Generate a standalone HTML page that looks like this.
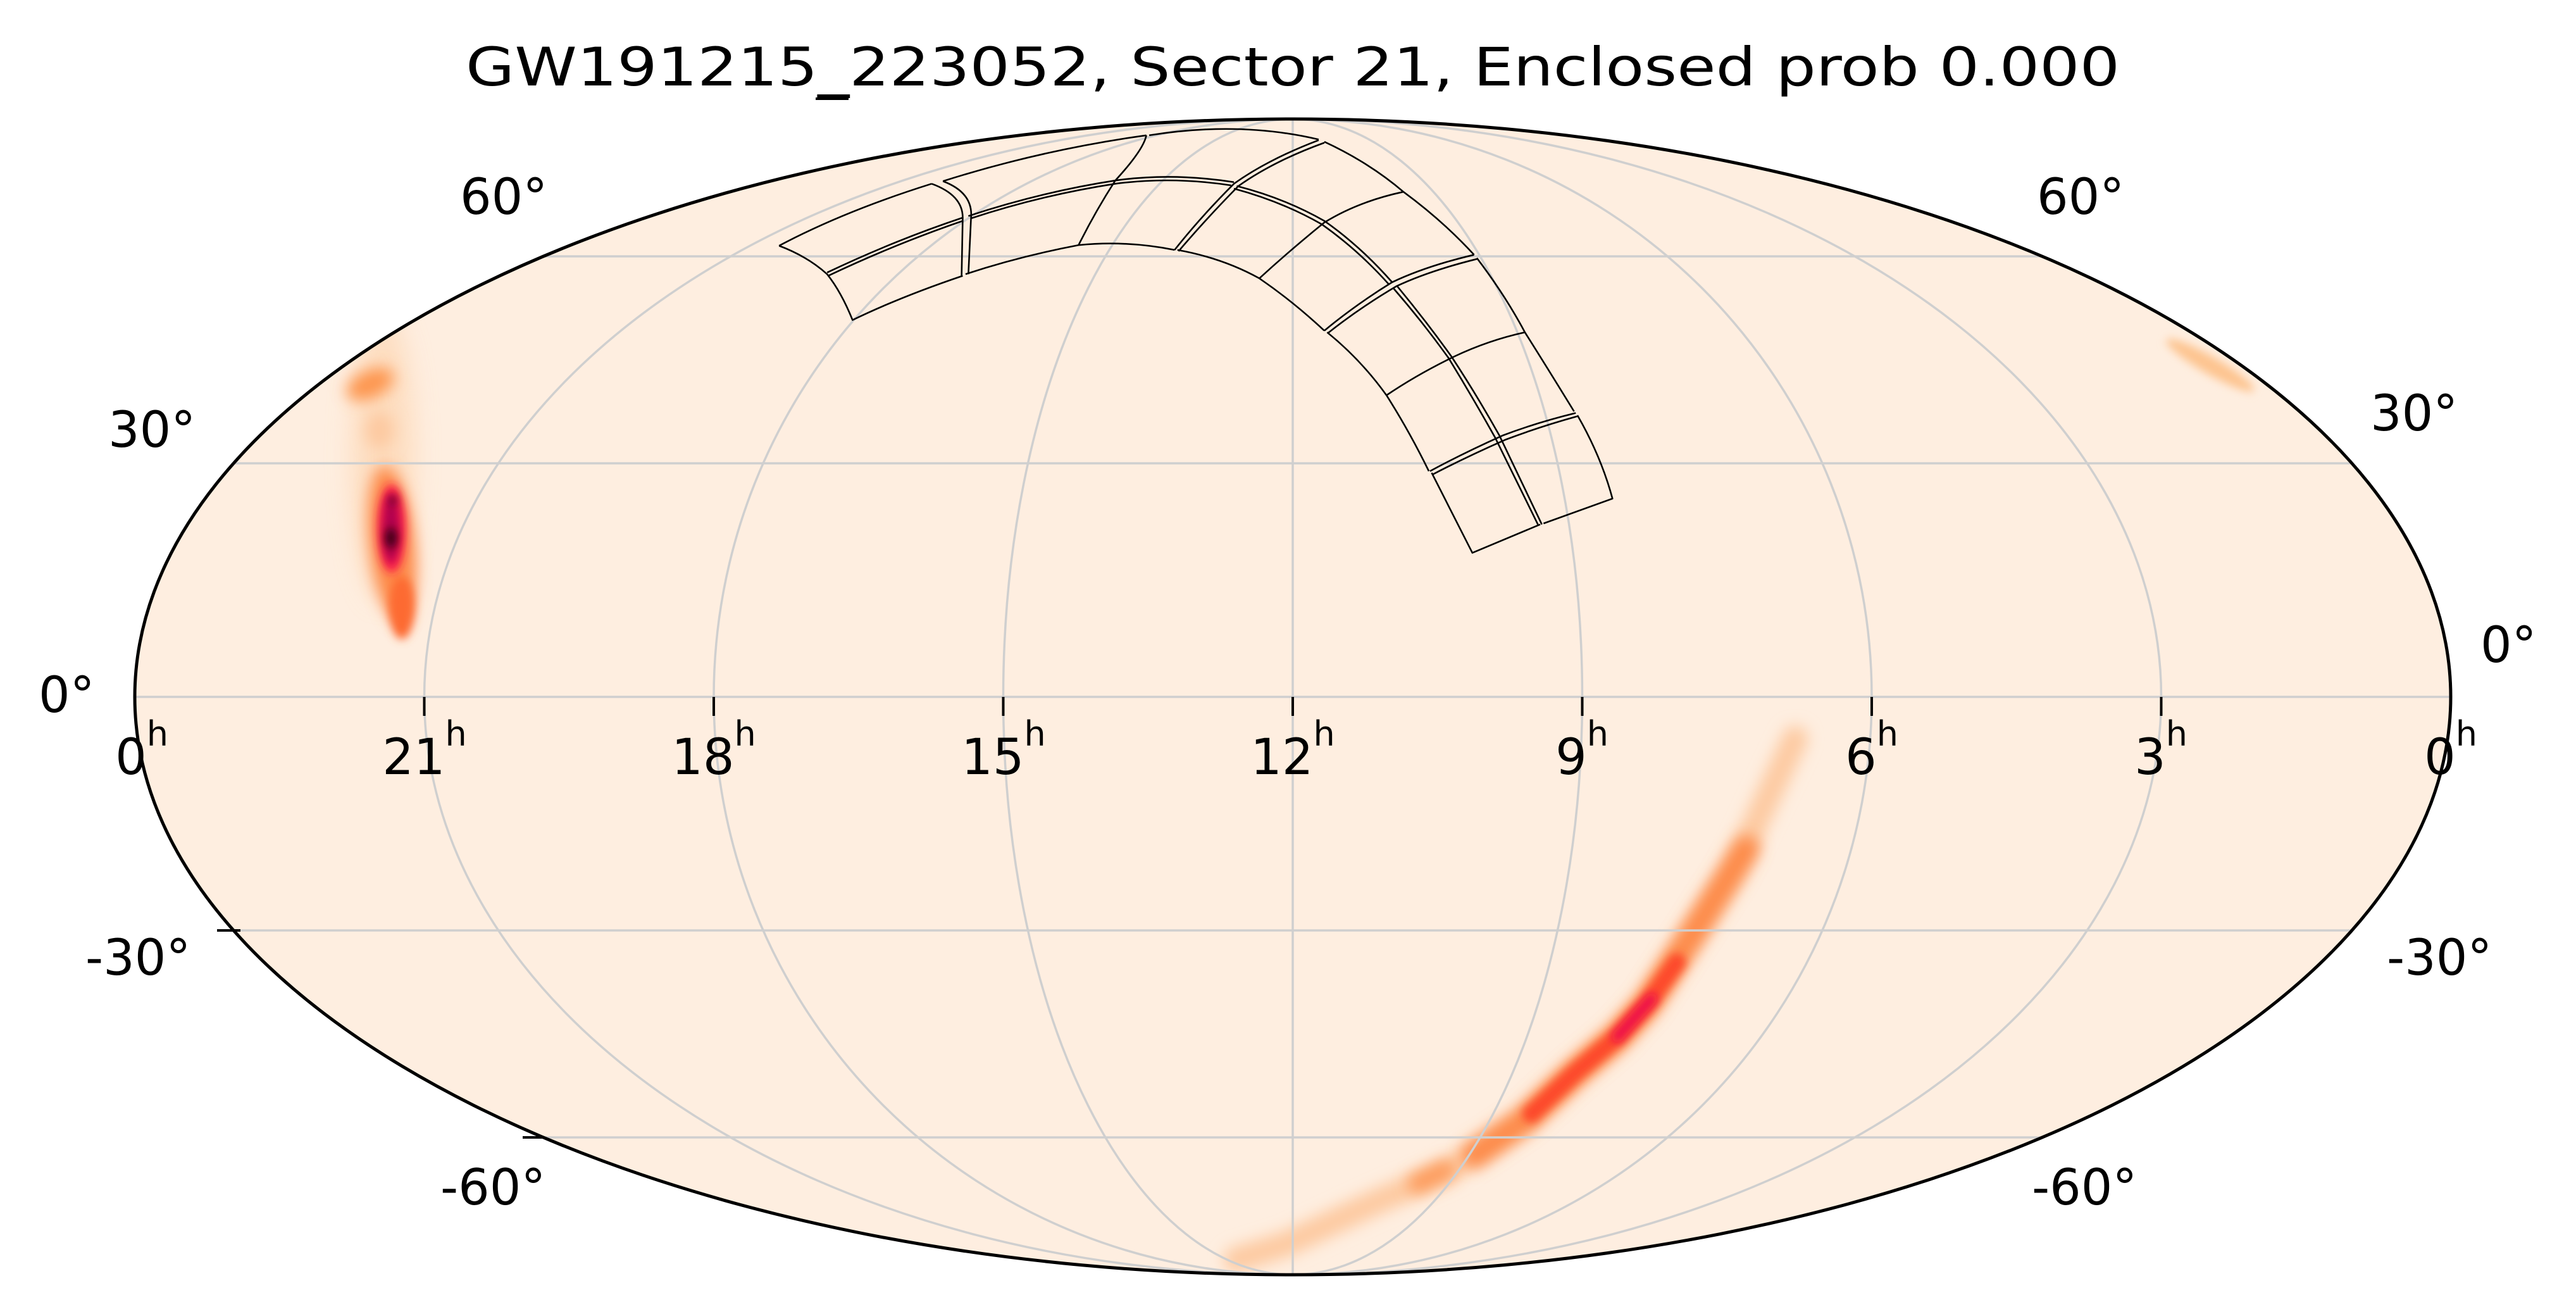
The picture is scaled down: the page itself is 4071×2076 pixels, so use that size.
<!DOCTYPE html>
<html><head><meta charset="utf-8"><style>
html,body{margin:0;padding:0;background:#fff;}
svg{display:block;}
text{font-family:"DejaVu Sans","Liberation Sans",sans-serif;fill:#000;}
</style></head><body>
<svg width="4071" height="2076" viewBox="0 0 4071 2076" xmlns="http://www.w3.org/2000/svg">
<defs>
<clipPath id="cl"><ellipse cx="2043" cy="1101" rx="1830" ry="913"/></clipPath>
<filter id="b1" filterUnits="userSpaceOnUse" x="0" y="0" width="4071" height="2076"><feGaussianBlur stdDeviation="12"/></filter>
<filter id="b2" filterUnits="userSpaceOnUse" x="0" y="0" width="4071" height="2076"><feGaussianBlur stdDeviation="7"/></filter>
<filter id="b3" filterUnits="userSpaceOnUse" x="0" y="0" width="4071" height="2076"><feGaussianBlur stdDeviation="20"/></filter>
</defs>
<ellipse cx="2043" cy="1101" rx="1830" ry="913" fill="#feeee0"/>
<g clip-path="url(#cl)">
<!-- left blob -->
<ellipse cx="605" cy="720" rx="50" ry="230" fill="#fdd9b8" filter="url(#b3)" opacity="0.8"/>
<ellipse cx="585" cy="607" rx="40" ry="22" fill="#fd9650" filter="url(#b1)" transform="rotate(-25 585 607)"/>
<ellipse cx="600" cy="680" rx="22" ry="30" fill="#fdc9a0" filter="url(#b1)"/>
<ellipse cx="620" cy="860" rx="36" ry="125" fill="#fd8a4a" filter="url(#b1)" transform="rotate(-6 620 860)"/>
<ellipse cx="635" cy="960" rx="20" ry="50" fill="#fd6a30" filter="url(#b2)"/>
<ellipse cx="619" cy="835" rx="22" ry="70" fill="#fb1e4c" filter="url(#b2)"/>
<ellipse cx="618" cy="835" rx="13" ry="55" fill="#b0004e" filter="url(#b2)"/>
<ellipse cx="618" cy="850" rx="9" ry="16" fill="#3a0010" filter="url(#b2)"/>
<ellipse cx="621" cy="790" rx="5" ry="8" fill="#5a0020" filter="url(#b2)"/>
<!-- top right blob -->
<ellipse cx="3493" cy="577" rx="80" ry="14" fill="#fdc490" filter="url(#b2)" transform="rotate(30 3493 577)"/>
<!-- right arc -->
<path d="M2837,1167 L2737,1380 L2670,1483 L2603,1586 L2556,1638 L2489,1695 L2409,1770 L2288,1850 L2168,1902 L2034,1965 L1954,1990" fill="none" stroke="#fdcaa2" stroke-width="40" stroke-linecap="round" filter="url(#b1)"/>
<path d="M2760,1340 L2670,1483 L2603,1586 L2556,1638 L2489,1695 L2409,1770 L2330,1825" fill="none" stroke="#fd8a4a" stroke-width="40" stroke-linecap="round" filter="url(#b1)"/>
<path d="M2285,1848 L2240,1870" stroke="#fd9a5a" stroke-width="30" stroke-linecap="round" filter="url(#b1)"/>
<path d="M2650,1520 L2603,1586 L2556,1638 L2489,1695 L2420,1760" fill="none" stroke="#fd4a2a" stroke-width="28" stroke-linecap="round" filter="url(#b2)"/>
<path d="M2610,1578 L2556,1638" fill="none" stroke="#ee0a4c" stroke-width="18" stroke-linecap="round" filter="url(#b2)"/>
<!-- grid -->
<g stroke="#cfcfcf" stroke-width="3.5" fill="none">
<ellipse cx="2043" cy="1101" rx="457.5" ry="913"/>
<ellipse cx="2043" cy="1101" rx="915" ry="913"/>
<ellipse cx="2043" cy="1101" rx="1372.5" ry="913"/>
<line x1="2043" y1="180" x2="2043" y2="2020"/>
<line x1="200" y1="1101" x2="3880" y2="1101"/>
<line x1="300" y1="732" x2="3790" y2="732"/>
<line x1="300" y1="1470" x2="3790" y2="1470"/>
<line x1="800" y1="405" x2="3290" y2="405"/>
<line x1="800" y1="1797" x2="3290" y2="1797"/>
</g>
</g>
<ellipse cx="2043" cy="1101" rx="1830" ry="913" fill="none" stroke="#000" stroke-width="5"/>
<!-- tiles -->
<g transform="translate(1200,150) scale(0.8929,0.5102)" fill="none" stroke="#000" stroke-width="2.6" stroke-linejoin="round">
<path vector-effect="non-scaling-stroke" d="M35,467 Q150,360 305,275 M325,267 Q500,170 685,125 M690,125 Q850,80 990,138 M1000,145 Q1080,210 1140,300 Q1210,390 1265,495 M1270,505 Q1320,620 1355,735 Q1400,860 1442,980 M1448,992 Q1490,1120 1510,1250 L1388,1327 M1382,1330 L1262,1418 Q1225,1290 1190,1170 M1185,1165 Q1150,1040 1110,930 Q1065,820 1005,735 M1000,730 Q945,640 885,568 Q820,505 740,480 M735,480 Q650,450 565,465 Q460,500 365,555 M360,560 Q250,625 165,697 Q145,610 120,555 Q85,500 35,467"/>
<path vector-effect="non-scaling-stroke" d="M120,550 Q240,450 360,380 M370,375 Q500,300 630,265 Q730,240 840,270 M845,282 Q930,320 1000,390 Q1065,470 1120,580 M1128,590 Q1180,700 1225,810 Q1270,930 1310,1055 L1385,1330"/>
<path vector-effect="non-scaling-stroke" d="M122,560 Q240,462 360,390 M375,382 Q500,310 630,275 Q730,252 835,280 M840,290 Q925,330 995,400 Q1060,480 1115,588 M1122,598 Q1175,705 1220,815 Q1262,935 1302,1060 L1378,1330"/>
<path vector-effect="non-scaling-stroke" d="M305,275 Q360,310 360,380 L358,560 M325,267 Q375,300 375,370 L370,555"/>
<path vector-effect="non-scaling-stroke" d="M685,125 Q680,170 630,265 Q595,360 565,465"/>
<path vector-effect="non-scaling-stroke" d="M990,140 Q900,200 840,275 Q780,380 735,480 M1000,148 Q910,205 848,282 Q790,385 742,484"/>
<path vector-effect="non-scaling-stroke" d="M1140,300 Q1060,330 1000,395 Q940,480 885,568"/>
<path vector-effect="non-scaling-stroke" d="M1265,495 Q1180,530 1120,580 Q1055,650 1000,730 M1270,508 Q1185,545 1128,592 Q1062,660 1006,738"/>
<path vector-effect="non-scaling-stroke" d="M1355,735 Q1290,760 1230,810 Q1165,865 1110,930"/>
<path vector-effect="non-scaling-stroke" d="M1445,985 Q1375,1015 1315,1055 Q1245,1110 1187,1165 M1448,995 Q1380,1028 1320,1068 Q1250,1122 1192,1175"/>
</g>
<!-- ticks -->
<g stroke="#000" stroke-width="4">
<line x1="670.5" y1="1101" x2="670.5" y2="1131"/>
<line x1="1128" y1="1101" x2="1128" y2="1131"/>
<line x1="1585.5" y1="1101" x2="1585.5" y2="1131"/>
<line x1="2043" y1="1101" x2="2043" y2="1131"/>
<line x1="2500.5" y1="1101" x2="2500.5" y2="1131"/>
<line x1="2958" y1="1101" x2="2958" y2="1131"/>
<line x1="3415.5" y1="1101" x2="3415.5" y2="1131"/>
<line x1="343" y1="1470" x2="380" y2="1470"/>
<line x1="826" y1="1797" x2="860" y2="1797"/>
<line x1="1289" y1="156" x2="1341" y2="156"/>
</g>
<text x="2043" y="135" font-size="84" text-anchor="middle" textLength="2614" lengthAdjust="spacingAndGlyphs">GW191215_223052, Sector 21, Enclosed prob 0.000</text>
<g font-size="78" text-anchor="middle">
<text x="224" y="1223">0<tspan font-size="54" dy="-45">h</tspan></text>
<text x="671" y="1223">21<tspan font-size="54" dy="-45">h</tspan></text>
<text x="1128" y="1223">18<tspan font-size="54" dy="-45">h</tspan></text>
<text x="1586" y="1223">15<tspan font-size="54" dy="-45">h</tspan></text>
<text x="2043" y="1223">12<tspan font-size="54" dy="-45">h</tspan></text>
<text x="2500" y="1223">9<tspan font-size="54" dy="-45">h</tspan></text>
<text x="2958" y="1223">6<tspan font-size="54" dy="-45">h</tspan></text>
<text x="3415" y="1223">3<tspan font-size="54" dy="-45">h</tspan></text>
<text x="3873" y="1223">0<tspan font-size="54" dy="-45">h</tspan></text>
</g>
<g font-size="78">
<text x="727" y="338">60°</text>
<text x="3219" y="338">60°</text>
<text x="171" y="706">30°</text>
<text x="3746" y="680">30°</text>
<text x="61" y="1125">0°</text>
<text x="3920" y="1046">0°</text>
<text x="135" y="1540">-30°</text>
<text x="3772" y="1540">-30°</text>
<text x="696" y="1903">-60°</text>
<text x="3211" y="1903">-60°</text>
</g>
</svg>
</body></html>
